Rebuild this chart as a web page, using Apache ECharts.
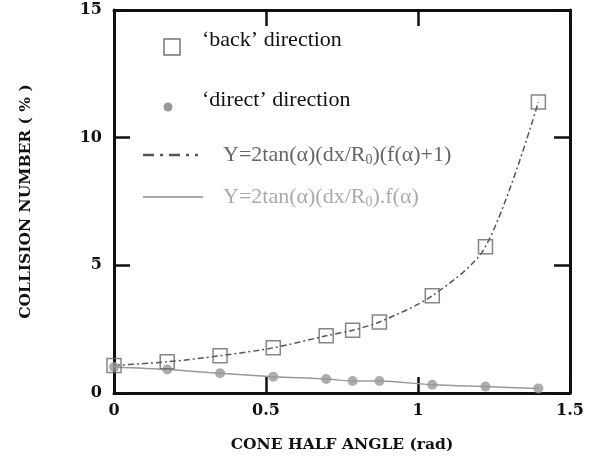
<!DOCTYPE html>
<html>
<head>
<meta charset="utf-8">
<script src="https://cdn.jsdelivr.net/npm/echarts@6/dist/echarts.min.js"></script>
<style>html,body{margin:0;padding:0;background:#fff}#c{width:606px;height:466px}</style>
</head>
<body>
<div id="c"></div>
<script>
// cone half angle (rad)
const angles = [0, 0.175, 0.349, 0.524, 0.698, 0.785, 0.873, 1.047, 1.222, 1.396];
// 'back' direction collision number (%)
const backValues = [1.08, 1.22, 1.46, 1.77, 2.24, 2.46, 2.78, 3.81, 5.73, 11.4];
// 'direct' direction collision number (%)
const directValues = [1.02, 0.92, 0.77, 0.64, 0.55, 0.47, 0.47, 0.32, 0.25, 0.18];
const xTicks = ['0', '0.5', '1', '1.5'];
const yTicks = ['0', '5', '10', '15'];

const pair = (xs, ys) => xs.map((x, i) => [x, ys[i]]);
const chart = echarts.init(document.getElementById('c'));
const tickFont = {fontFamily: 'DejaVu Serif', fontWeight: 'bold', fontSize: 16, color: '#111'};
const nameFont = {fontFamily: 'DejaVu Serif', fontWeight: 'bold', fontSize: 15.5, color: '#111'};
const axisCommon = {
  axisLine: {show: true, onZero: false, lineStyle: {color: '#111', width: 3}},
  axisTick: {show: true, inside: true, length: 16, lineStyle: {color: '#111', width: 2.5}},
  splitLine: {show: false}
};
chart.setOption({
  animation: false,
  backgroundColor: '#fff',
  grid: {left: 114, right: 36, top: 10, bottom: 73},
  xAxis: [
    Object.assign({type: 'value', min: 0, max: 1.5, interval: 0.5, position: 'bottom',
      name: 'CONE HALF ANGLE (rad)', nameLocation: 'middle', nameGap: 44,
      nameTextStyle: nameFont,
      axisLabel: Object.assign({margin: 10, formatter: v => xTicks[Math.round(v / 0.5)]}, tickFont)}, axisCommon),
    Object.assign({type: 'value', min: 0, max: 1.5, interval: 0.5, position: 'top',
      axisLabel: {show: false}}, axisCommon)
  ],
  yAxis: [
    Object.assign({type: 'value', min: 0, max: 15, interval: 5, position: 'left',
      name: 'COLLISION NUMBER ( % )', nameLocation: 'middle', nameGap: 80, nameRotate: 90,
      nameTextStyle: nameFont,
      axisLabel: Object.assign({margin: 12, formatter: v => yTicks[Math.round(v / 5)]}, tickFont)}, axisCommon),
    Object.assign({type: 'value', min: 0, max: 15, interval: 5, position: 'right',
      axisLabel: {show: false}}, axisCommon)
  ],
  series: [
    {type: 'line', data: pair(angles, backValues), smooth: 0.3, showSymbol: false, silent: true,
      lineStyle: {color: '#555', width: 1.5, type: [6, 3, 2, 3]}, z: 2},
    {type: 'line', data: pair(angles, directValues), smooth: 0.3, showSymbol: false, silent: true,
      lineStyle: {color: '#999', width: 1.5}, z: 2},
    {type: 'scatter', data: pair(angles, directValues), symbol: 'circle', symbolSize: 10,
      itemStyle: {color: '#999'}, z: 3},
    {type: 'scatter', data: pair(angles, backValues), symbol: 'rect', symbolSize: 14,
      itemStyle: {color: 'rgba(255,255,255,0)', borderColor: '#666', borderWidth: 1.5}, z: 4}
  ],
  graphic: [
    {type: 'rect', shape: {x: 164, y: 39, width: 16, height: 16},
      style: {fill: 'none', stroke: '#777', lineWidth: 1.5}},
    {type: 'text', x: 202, y: 40, style: {text: '‘back’ direction', font: '22px "Liberation Serif"', fill: '#111', textVerticalAlign: 'middle'}},
    {type: 'circle', shape: {cx: 168, cy: 107, r: 4.5}, style: {fill: '#999'}},
    {type: 'text', x: 202, y: 100, style: {text: '‘direct’ direction', font: '22px "Liberation Serif"', fill: '#111', textVerticalAlign: 'middle'}},
    {type: 'line', shape: {x1: 143, y1: 155, x2: 198, y2: 155},
      style: {stroke: '#555', lineWidth: 2.5, lineDash: [11, 6, 3, 6]}},
    {type: 'text', x: 223, y: 155, style: {text: 'Y=2tan(α)(dx/R{s|0})(f(α)+1)', font: '22px "Liberation Serif"', fill: '#666', textVerticalAlign: 'middle',
      rich: {s: {fontSize: 14, fontFamily: 'Liberation Serif', fill: '#666', padding: [10, 0, 0, 0]}}}},
    {type: 'line', shape: {x1: 143, y1: 197, x2: 203, y2: 197},
      style: {stroke: '#aaa', lineWidth: 2}},
    {type: 'text', x: 223, y: 197, style: {text: 'Y=2tan(α)(dx/R{s|0}).f(α)', font: '22px "Liberation Serif"', fill: '#aaa', textVerticalAlign: 'middle',
      rich: {s: {fontSize: 14, fontFamily: 'Liberation Serif', fill: '#aaa', padding: [10, 0, 0, 0]}}}}
  ]
});
</script>
</body>
</html>
